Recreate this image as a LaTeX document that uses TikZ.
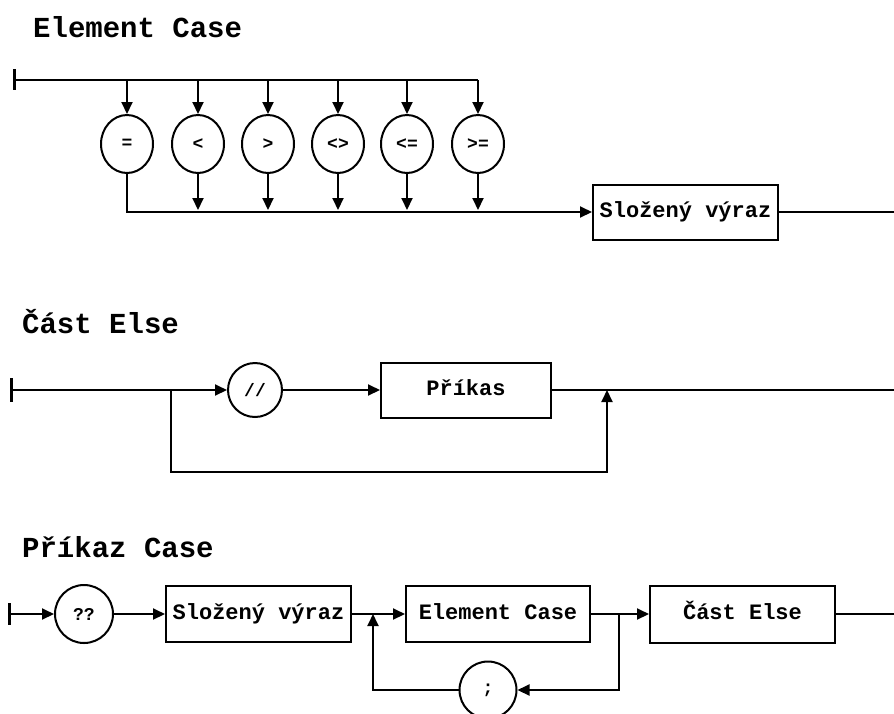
\documentclass[tikz,border=0pt]{standalone}
\usepackage{fontspec}
\setmonofont{Liberation Mono}
\usetikzlibrary{arrows.meta,shapes.geometric}
\tikzset{
  ln/.style={line width=2pt},
  arr/.style={ln,-{Triangle[length=12pt,width=11pt]}},
  term/.style={ellipse,draw,line width=2pt,inner sep=0pt,font=\ttfamily\bfseries\fontsize{18}{18}\selectfont},
  box/.style={rectangle,draw,line width=2pt,inner sep=0pt,minimum height=55pt,text height=15pt,text depth=5pt,font=\ttfamily\bfseries\fontsize{22}{22}\selectfont},
  ttl/.style={anchor=base west,inner sep=0pt,font=\ttfamily\bfseries\fontsize{29}{29}\selectfont},
  bar/.style={line width=3pt}
}
\begin{document}
\begin{tikzpicture}[x=1pt,y=-1pt]
\useasboundingbox (0,0) rectangle (894,713);
\clip (0,0) rectangle (894,713);
\fill[white] (0,0) rectangle (894,713);

% ---------- Element Case ----------
\node[ttl] (t1) at (33,37) {Element Case};
\coordinate (s1) at (14,80);
\draw[bar] (14,69) -- (14,90);
\foreach \i/\x/\s in {1/127/=,2/198/<,3/268/>,4/338/<>,5/407/<=,6/478/>=}{
  \node[term,minimum width=52pt,minimum height=58pt] (c\i) at (\x,144) {\s};
  \coordinate (u\i) at (\x,80);
  \coordinate (d\i) at (\x,210);
}
\draw[ln] (s1) -- (u6);
\foreach \i in {1,...,6}{ \draw[arr] (u\i) -- (c\i.north); }
\foreach \i in {2,...,6}{ \draw[arr] (c\i.south) -- (d\i); }
\node[box,minimum width=185pt] (b1) at (685.5,212) {Složený výraz};
\draw[arr] (c1.south) |- (b1.west);
\coordinate (e1) at (894,212);
\draw[ln] (b1.east) -- (e1);

% ---------- Cast Else ----------
\node[ttl] (t2) at (22,333) {Část Else};
\coordinate (s2) at (11,390);
\draw[bar] (11,378) -- (11,402);
\node[term,minimum width=54pt,minimum height=54pt] (sl) at (255,390) {//};
\node[box,minimum width=170pt] (b2) at (466,390) {Příkas};
\coordinate (j2) at (171,390);
\coordinate (r2) at (607,390);
\coordinate (e2) at (894,390);
\draw[arr] (s2) -- (sl.west);
\draw[arr] (sl.east) -- (b2.west);
\draw[ln] (b2.east) -- (e2);
\draw[arr] (j2) -- (171,472) -- (607,472) -- (r2);

% ---------- Prikaz Case ----------
\node[ttl] (t3) at (22,557) {Příkaz Case};
\coordinate (s3) at (9,614);
\draw[bar] (9,603) -- (9,625);
\node[term,minimum width=58pt,minimum height=58pt] (q) at (84,614) {??};
\node[box,minimum width=185pt,minimum height=56pt] (b3) at (258.5,614) {Složený výraz};
\node[box,minimum width=184pt,minimum height=56pt] (b4) at (498,614) {Element Case};
\node[box,minimum width=185pt,minimum height=57pt] (b5) at (742.5,614) {Část Else};
\node[term,minimum width=57pt,minimum height=57pt] (sc) at (488,690) {;};
\coordinate (j3) at (373,614);
\coordinate (k3) at (619,614);
\coordinate (e3) at (894,614);
\draw[arr] (s3) -- (q.west);
\draw[arr] (q.east) -- (b3.west);
\draw[arr] (b3.east) -- (b4.west);
\draw[arr] (b4.east) -- (b5.west);
\draw[ln] (b5.east) -- (e3);
\draw[arr] (k3) |- (sc.east);
\draw[arr] (sc.west) -| (j3);
\end{tikzpicture}
\end{document}
